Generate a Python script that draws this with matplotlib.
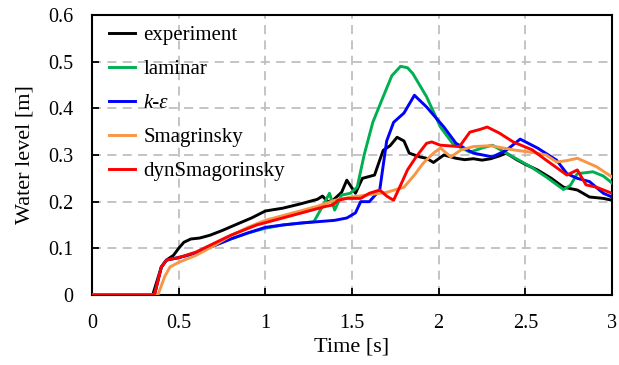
import matplotlib
matplotlib.use("Agg")
import matplotlib.pyplot as plt

# ---- data ----
t_exp = [0.0, 0.35, 0.40, 0.43, 0.47, 0.50, 0.53, 0.57, 0.62, 0.68, 0.75, 0.85, 0.92, 1.00, 1.10, 1.20, 1.30, 1.33,
         1.36, 1.39, 1.44, 1.47, 1.52, 1.56, 1.63, 1.66, 1.68, 1.72, 1.76, 1.80, 1.83, 1.86,
         1.89, 1.93, 1.97, 2.03, 2.10, 2.15, 2.20, 2.25, 2.30, 2.35, 2.39, 2.45,
         2.50, 2.57, 2.65, 2.72, 2.80, 2.87, 2.95, 3.00]
y_exp = [0.0, 0.0, 0.06, 0.075, 0.085, 0.10, 0.113, 0.12, 0.122, 0.128, 0.138, 0.154, 0.165, 0.18, 0.186, 0.195, 0.205, 0.212,
         0.20, 0.203, 0.22, 0.246, 0.218, 0.25, 0.257, 0.289, 0.31, 0.32, 0.338, 0.33, 0.304, 0.30,
         0.296, 0.293, 0.284, 0.30, 0.293, 0.29, 0.292, 0.289, 0.292, 0.298, 0.304, 0.29,
         0.28, 0.268, 0.25, 0.231, 0.225, 0.21, 0.207, 0.203]

t_lam = [0.0, 0.36, 0.40, 0.43, 0.50, 0.60, 0.70, 0.80, 0.90, 1.00, 1.10, 1.20, 1.28, 1.33, 1.37, 1.40, 1.44,
         1.49, 1.53, 1.57, 1.62, 1.68, 1.73, 1.78, 1.82, 1.85, 1.93, 2.01, 2.08, 2.18, 2.25, 2.31, 2.39,
         2.53, 2.62, 2.72, 2.76, 2.80, 2.89, 2.95, 3.00]
y_lam = [0.0, 0.0, 0.06, 0.075, 0.08, 0.09, 0.105, 0.12, 0.133, 0.143, 0.15, 0.154, 0.157, 0.19, 0.218, 0.182, 0.214,
         0.218, 0.231, 0.30, 0.37, 0.425, 0.47, 0.49, 0.487, 0.475, 0.425, 0.36, 0.325, 0.306, 0.315, 0.321, 0.304,
         0.275, 0.253, 0.226, 0.235, 0.26, 0.264, 0.255, 0.24]

t_ke = [0.0, 0.36, 0.40, 0.43, 0.50, 0.60, 0.70, 0.80, 0.90, 1.00, 1.10, 1.20, 1.30, 1.40, 1.47, 1.52, 1.55,
        1.60, 1.66, 1.70, 1.74, 1.80, 1.86, 1.93, 2.03, 2.10, 2.20, 2.31, 2.39, 2.47, 2.57, 2.68, 2.74,
        2.80, 2.87, 2.95, 3.00]
y_ke = [0.0, 0.0, 0.06, 0.075, 0.08, 0.09, 0.105, 0.12, 0.133, 0.145, 0.15, 0.154, 0.157, 0.16, 0.165, 0.176, 0.20,
        0.20, 0.225, 0.33, 0.37, 0.39, 0.428, 0.403, 0.36, 0.325, 0.304, 0.296, 0.31, 0.334, 0.315, 0.289, 0.26,
        0.25, 0.243, 0.218, 0.21]

t_sma = [0.0, 0.38, 0.42, 0.45, 0.50, 0.60, 0.70, 0.80, 0.90, 1.00, 1.10, 1.20, 1.30, 1.40, 1.50, 1.60, 1.70,
         1.80, 1.86, 1.91, 1.97, 2.01, 2.07, 2.13, 2.20, 2.30, 2.43, 2.55, 2.62, 2.68, 2.74, 2.80, 2.91, 3.00]
y_sma = [0.0, 0.0, 0.04, 0.06, 0.07, 0.085, 0.105, 0.127, 0.145, 0.16, 0.17, 0.18, 0.19, 0.203, 0.21, 0.215, 0.22,
         0.231, 0.257, 0.282, 0.304, 0.315, 0.296, 0.311, 0.318, 0.32, 0.311, 0.305, 0.30, 0.285, 0.288, 0.293, 0.275, 0.253]

t_dyn = [0.0, 0.36, 0.40, 0.43, 0.50, 0.60, 0.70, 0.80, 0.95, 1.05, 1.15, 1.25, 1.35, 1.39, 1.42, 1.47, 1.55,
         1.60, 1.66, 1.70, 1.74, 1.78, 1.82, 1.87, 1.93, 1.96, 2.01, 2.12, 2.18, 2.24, 2.28, 2.35, 2.43, 2.54,
         2.62, 2.74, 2.80, 2.85, 2.91, 3.00]
y_dyn = [0.0, 0.0, 0.06, 0.075, 0.08, 0.092, 0.11, 0.128, 0.15, 0.16, 0.17, 0.18, 0.19, 0.193, 0.203, 0.207, 0.207,
         0.218, 0.225, 0.212, 0.203, 0.235, 0.268, 0.296, 0.325, 0.328, 0.321, 0.318, 0.349, 0.355, 0.36, 0.347, 0.328, 0.311,
         0.289, 0.257, 0.268, 0.236, 0.231, 0.218]

labels = ["experiment", "laminar", "k-\u03b5", "Smagrinsky", "dynSmagorinsky"]
colors = ["#000000", "#00b050", "#0000ff", "#f79646", "#ff0000"]
x_ticks = [0, 0.5, 1, 1.5, 2, 2.5, 3]
x_ticklabels = ["0", "0.5", "1", "1.5", "2", "2.5", "3"]
y_ticks = [0, 0.1, 0.2, 0.3, 0.4, 0.5, 0.6]
y_ticklabels = ["0", "0.1", "0.2", "0.3", "0.4", "0.5", "0.6"]

plt.rcParams['font.family'] = ['Liberation Serif', 'DejaVu Serif']

fig = plt.figure(figsize=(6.19, 3.65), dpi=100)
ax = fig.add_axes([92/619, 70/365, 520/619, 280/365])

series = [(t_exp, y_exp), (t_lam, y_lam), (t_ke, y_ke), (t_sma, y_sma), (t_dyn, y_dyn)]
order = [3, 1, 2, 4, 0]
handles = {}
for i in order:
    t, y = series[i]
    ln, = ax.plot(t, y, color=colors[i], lw=2.1, label=labels[i], zorder=3 + i * 0.1)
    handles[i] = ln

ax.set_xlim(0, 3)
ax.set_ylim(0, 0.6)
ax.set_xticks(x_ticks)
ax.set_xticklabels(x_ticklabels)
ax.set_yticks(y_ticks)
ax.set_yticklabels(y_ticklabels)
ax.tick_params(direction='in', length=5, width=1.3, labelsize=14.5, colors='black')
ax.tick_params(axis='x', pad=14)
ax.tick_params(axis='y', pad=13.5)
ax.grid(True, color='#bfbfbf', linestyle=(0, (5, 3.5)), linewidth=1.3)
ax.set_axisbelow(True)
for sp in ax.spines.values():
    sp.set_linewidth(1.5)
    sp.set_color('black')

ax.set_xlabel("Time [s]", fontsize=16, labelpad=3)
ax.set_ylabel("Water level [m]", fontsize=16, labelpad=10)

leg = ax.legend([handles[i] for i in range(5)], labels, loc='upper left',
                bbox_to_anchor=(0.033, 0.962), frameon=False, fontsize=15,
                handlelength=1.25, handletextpad=0.4, labelspacing=0.69,
                borderpad=0, borderaxespad=0)
leg.get_texts()[2].set_fontstyle('italic')

fig.savefig("out.png", dpi=100)
